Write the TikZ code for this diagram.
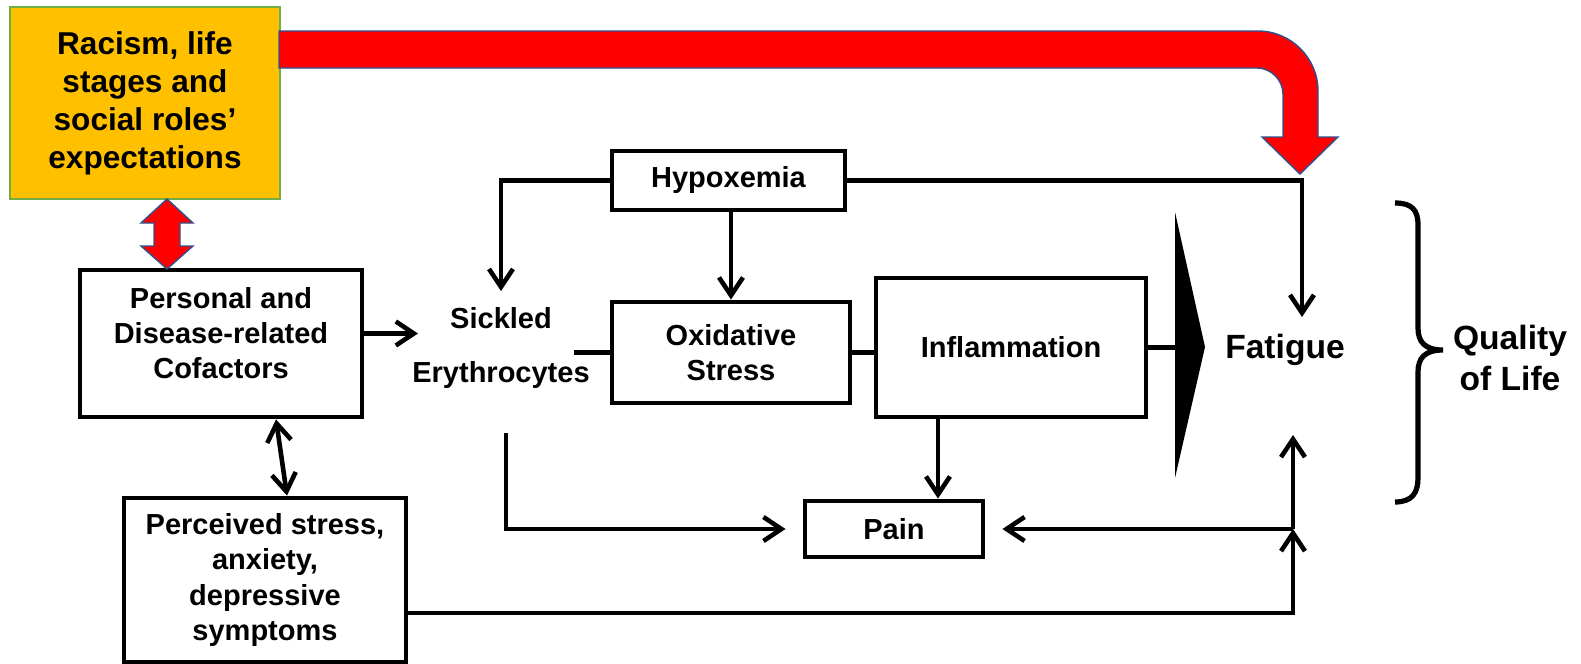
\documentclass[tikz,border=0pt]{standalone}
\usepackage{fontspec}
\setmainfont{Liberation Sans}
\usepackage{tikz}
\usetikzlibrary{calc,arrows.meta}
\definecolor{boxorange}{RGB}{255,192,0}
\definecolor{boxgreen}{RGB}{112,173,71}
\definecolor{arrowred}{RGB}{255,0,0}
\definecolor{arrowblue}{RGB}{47,82,143}
\newcommand{\txtsize}{\fontsize{14.5pt}{17.5pt}\selectfont\bfseries}
\newcommand{\bigsize}{\fontsize{16.8pt}{20.5pt}\selectfont\bfseries}
\newcommand{\racesize}{\fontsize{15.8pt}{19pt}\selectfont\bfseries}
\newcommand{\drawbentarrow} {
  \filldraw[fatarrow] (279,31) -- (1258,31) .. controls (1291,31) and (1318,58) .. (1318,91)
    -- (1318,137) -- (1338,137) -- (1300,174) -- (1262,137) -- (1283,137) -- (1283,94)
    .. controls (1283,80) and (1271,68) .. (1257,68) -- (279,68) -- cycle;
}
\newcommand{\drawdoublearrow}[1] {
  \filldraw[fatarrow] (#1,199) -- ++(26,24) -- ++(-13,0) -- ++(0,23) -- ++(13,0) -- (#1,269)
    -- ++(-26,-23) -- ++(13,0) -- ++(0,-23) -- ++(-13,0) -- cycle; % shaft centred at #1
}

\begin{document}
\begin{tikzpicture}[x=0.5pt, y=-0.5pt,
    box/.style={draw, line width=2.4pt, align=center, inner sep=0pt, font=\txtsize},
    txt/.style={align=center, inner sep=0pt, font=\txtsize},
    line/.style={line width=2.3pt},
    arr/.style={line width=2.3pt, -{Straight Barb[length=9pt,width=12pt]}},
    arrboth/.style={line width=2.3pt, {Straight Barb[length=9pt,width=12pt]}-{Straight Barb[length=9pt,width=12pt]}},
    fatarrow/.style={fill=arrowred, draw=arrowblue, line width=0.7pt}]
    \useasboundingbox (0,0) rectangle (1581,664);

    \node[box, draw=boxgreen, line width=1pt, fill=boxorange, font=\racesize,
      minimum width=135pt, minimum height=96pt] (racism) at (145,103) {Racism, life\\stages and\\social roles’\\expectations};
    \node[box, minimum width=141pt, minimum height=73.5pt] (personal) at (221,343.5) {};
    \node[txt] (personaltext) at ([yshift=5pt]personal.center) {Personal and\\Disease-related\\Cofactors};
    \node[box, font=\fontsize{14.5pt}{17.7pt}\selectfont\bfseries,
      minimum width=141pt, minimum height=82pt] (perceived) at (265,580) {Perceived stress,\\anxiety,\\depressive\\symptoms};
    \node[txt, font=\fontsize{14.5pt}{27pt}\selectfont\bfseries] (sickled) at (501,348) {Sickled\\Erythrocytes};
    \node[box, minimum width=116.5pt, minimum height=29.5pt] (hypox) at (728.5,180.5) {Hypoxemia};
    \node[box, minimum width=119pt, minimum height=50.5pt] (oxid) at (731,352.5) {Oxidative\\Stress};
    \node[box, minimum width=135pt, minimum height=69.5pt] (inflam) at (1011,347.5) {Inflammation};
    \node[box, minimum width=89pt, minimum height=28pt] (pain) at (894,529) {Pain};
    \node[txt, font=\bigsize] (fatigue) at (1285,350) {Fatigue};
    \node[txt, font=\bigsize] (qol) at (1510,357.5) {Quality\\of Life};

    \coordinate (tri) at (1175,350);
    \coordinate (ftop) at (1302,317);
    \coordinate (fbot) at (1293,435);
    \coordinate (junc) at (fbot |- pain.east);

    \drawbentarrow
    \drawdoublearrow{167}

    \draw[arr] (hypox.west) -| ([yshift=8pt]sickled.north);
    \draw[arr] (hypox.east) -| (ftop);
    \draw[arr] (hypox.south -| oxid.north) -- (oxid.north);
    \draw[arr] (personaltext.center -| personal.east) -- ([xshift=3pt]personaltext.center -| sickled.west);
    \draw[line] ([xshift=-8pt]sickled.east |- oxid.west) -- (oxid.west);
    \draw[line] (oxid.east) -- (oxid.east -| inflam.west);
    \draw[line] (inflam.east) -- (inflam.east -| tri);
    \fill (1175,212) -- (1205,347) -- (1175,478) -- cycle;
    \draw[arr] ([xshift=-36.5pt]inflam.south) -- ([xshift=-36.5pt]inflam.south |- pain.north);
    \draw[arr, shorten >=8.5pt] ([xshift=2.5pt,yshift=-22pt]sickled.south) |- (pain.west);
    \draw[arr] ([yshift=-16.5pt]perceived.east) -| (junc);
    \draw[arr] (junc) -- (fbot);
    \draw[arr, shorten >=8.5pt] (junc) -- (pain.east);
    \draw[arrboth] ([xshift=27.5pt]personal.south) -- ([xshift=11pt]perceived.north);

    % brace for quality of life
    \draw[line width=2.6pt] (1395,203) .. controls (1412,203) and (1418,210) .. (1418,225) -- (1418,328)
      .. controls (1418,342) and (1425,350) .. (1443,350) .. controls (1425,350) and (1418,358) .. (1418,372)
      -- (1418,478) .. controls (1418,493) and (1412,502) .. (1395,502);
\end{tikzpicture}
\end{document}
